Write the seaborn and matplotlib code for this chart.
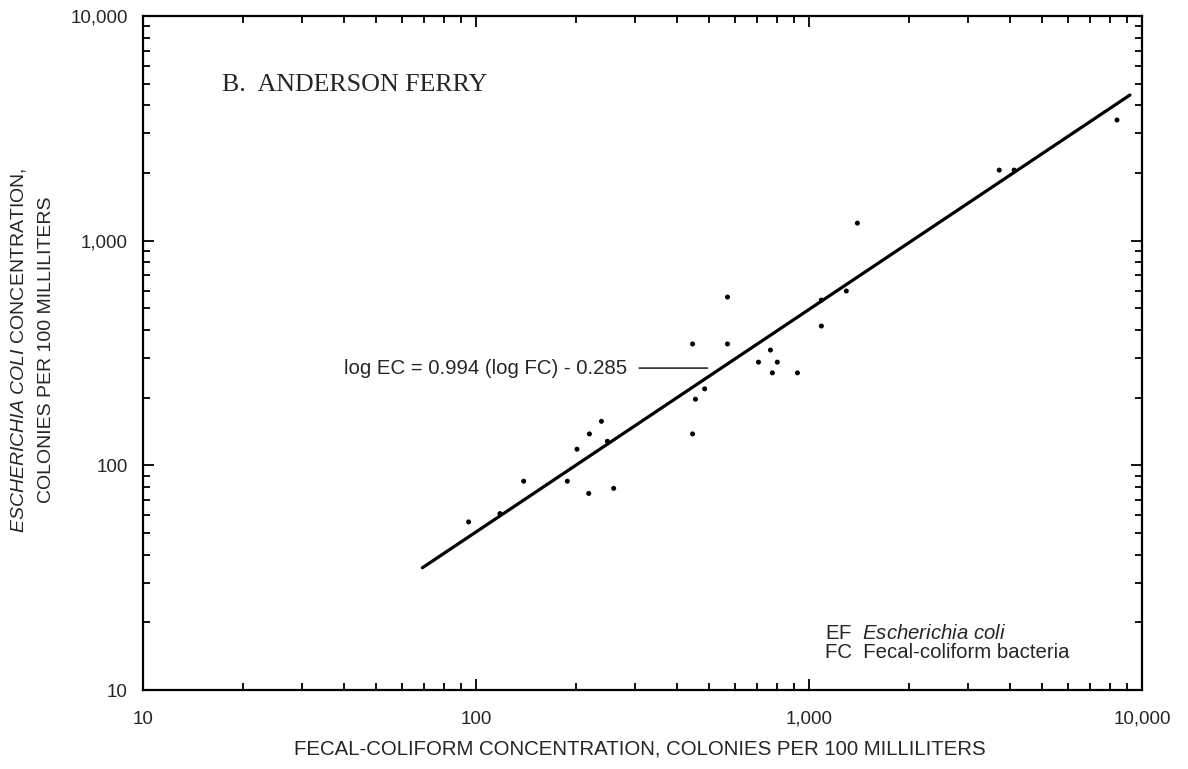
import matplotlib
matplotlib.use("Agg")
import matplotlib.pyplot as plt
from matplotlib.ticker import FuncFormatter, LogLocator, NullFormatter
import pandas as pd
import seaborn as sns

# ------------------------------
# Dados (colônias por 100 mL)
# ------------------------------
fc_values = [95, 118, 139, 188, 218, 259, 201, 219, 238, 248,
             447, 456, 486, 447, 569, 569, 705, 766, 803, 776,
             923, 1089, 1089, 1294, 1397, 3725, 4130, 8410]
ec_values = [56, 61, 85, 85, 75, 79, 118, 138, 157, 128,
             138, 197, 219, 347, 347, 561, 288, 326, 288, 258,
             258, 417, 544, 597, 1197, 2061, 2061, 3443]

# extremos da reta de regressão
fit_fc = [69, 9200]
fit_ec = [35, 4450]

tick_values = [10, 100, 1000, 10000]
equation_label = "log EC = 0.994 (log FC) - 0.285"
title_label = "B.  ANDERSON FERRY"

sns.set_style("ticks")
plt.rcParams["font.family"] = ["Liberation Sans", "DejaVu Sans"]
plt.rcParams["mathtext.fontset"] = "custom"
plt.rcParams["mathtext.rm"] = "Liberation Sans"
plt.rcParams["mathtext.it"] = "Liberation Sans:italic"

df_pts = pd.DataFrame({"fc": fc_values, "ec": ec_values})
df_fit = pd.DataFrame({"fc": fit_fc, "ec": fit_ec})

fig = plt.figure(figsize=(11.88, 7.69), dpi=100)
ax = fig.add_axes([0.1204, 0.1027, 0.8409, 0.8765])

sns.lineplot(data=df_fit, x="fc", y="ec", ax=ax, color="black", lw=2.3)
sns.scatterplot(data=df_pts, x="fc", y="ec", ax=ax, color="black", s=13,
                edgecolor="none", zorder=3)

ax.set_xscale("log")
ax.set_yscale("log")
ax.set_xlim(10, 10000)
ax.set_ylim(10, 10000)

fmt = FuncFormatter(lambda v, p: f"{v:,.0f}")
for axis in (ax.xaxis, ax.yaxis):
    axis.set_major_locator(LogLocator(base=10, numticks=10))
    axis.set_minor_locator(LogLocator(base=10, subs=range(2, 10), numticks=10))
    axis.set_major_formatter(fmt)
    axis.set_minor_formatter(NullFormatter())

ax.tick_params(which="both", direction="in", top=True, right=True,
               color="black", width=1.3)
ax.tick_params(which="major", length=8, labelsize=13.5)
ax.tick_params(axis="x", which="major", pad=15)
ax.tick_params(axis="y", which="major", pad=11)
ax.tick_params(which="minor", length=5)
for sp in ax.spines.values():
    sp.set_linewidth(1.6)
    sp.set_color("black")

ax.set_xlabel("")
ax.set_ylabel("")

fig.text(640 / 1188, 1 - 749 / 769,
         "FECAL-COLIFORM CONCENTRATION, COLONIES PER 100 MILLILITERS",
         ha="center", va="center", fontsize=14.7)
fig.text(19 / 1188, 1 - 350 / 769,
         r"$\it{ESCHERICHIA\ COLI}$ CONCENTRATION,",
         rotation=90, ha="center", va="center", fontsize=14)
fig.text(47 / 1188, 1 - 350 / 769, "COLONIES PER 100 MILLILITERS",
         rotation=90, ha="center", va="center", fontsize=14)

ax.text(0.079, 0.898, title_label, transform=ax.transAxes, ha="left",
        va="center", fontsize=18.7,
        family=["Liberation Serif", "DejaVu Serif"])

ax.annotate(equation_label, xy=(496, 271), xytext=(285, 271),
            textcoords="data", ha="right", va="center", fontsize=14.7,
            arrowprops=dict(arrowstyle="-", color="black", lw=1.0,
                            shrinkA=6, shrinkB=0))

ax.text(0.683, 0.0846, r"EF  $\it{Escherichia\ coli}$", transform=ax.transAxes,
        ha="left", va="center", fontsize=14.7)
ax.text(0.683, 0.0564, "FC  Fecal-coliform bacteria", transform=ax.transAxes,
        ha="left", va="center", fontsize=14.7)

fig.savefig("out.png", dpi=100, facecolor="white")
plt.close(fig)
